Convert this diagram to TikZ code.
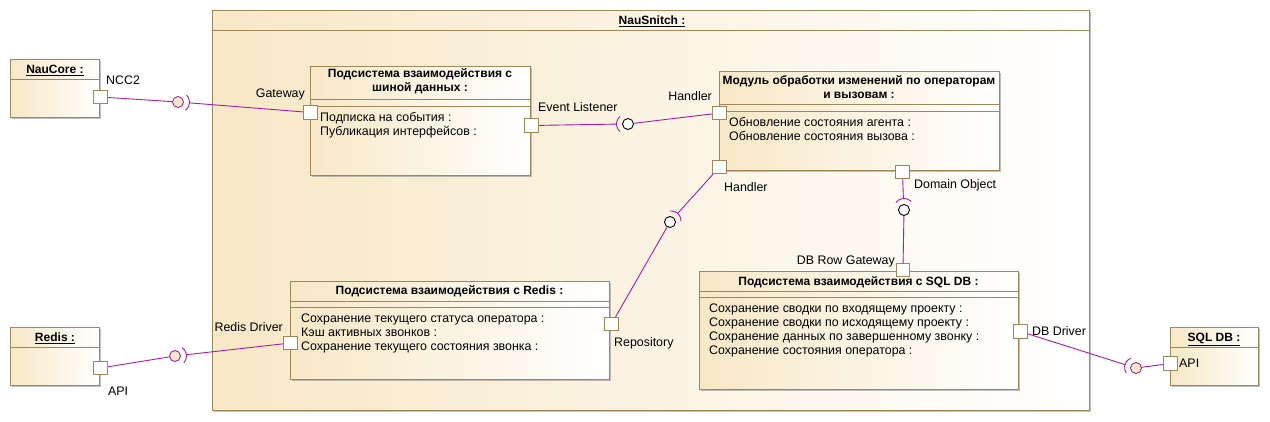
\documentclass[tikz,border=0pt]{standalone}
\usepackage{fontspec}
\setmainfont{Liberation Sans}
\usetikzlibrary{calc,shadows}
\definecolor{frameC}{RGB}{158,136,90}
\definecolor{creamC}{RGB}{247,232,198}
\definecolor{ballC}{RGB}{250,234,202}
\definecolor{connC}{RGB}{165,30,165}
\definecolor{shadowC}{RGB}{140,140,140}
\tikzset{
  comp/.style={draw=frameC, line width=1pt, left color=creamC, right color=white,
    inner sep=0pt, anchor=north west,
    drop shadow={shadow xshift=1.6pt, shadow yshift=-1.6pt, fill=shadowC, opacity=0.55}},
  sepline/.style={draw=frameC, line width=0.9pt},
  port/.style={draw=frameC, fill=white, line width=0.9pt, minimum size=12.5pt, inner sep=0pt},
  ballext/.style={circle, draw=connC, fill=ballC, line width=0.9pt, minimum size=11pt, inner sep=0pt},
  ballint/.style={circle, draw=black, fill=white, line width=0.9pt, minimum size=11pt, inner sep=0pt},
  conn/.style={draw=connC, line width=0.9pt},
  txt/.style={font=\fontsize{12.4}{14}\selectfont, inner sep=0pt, text height=8.7pt, text depth=0pt},
  ttl/.style={font=\fontsize{12}{14}\selectfont\bfseries, inner sep=0pt, text height=8.5pt, text depth=0pt},
  attr/.style={txt, anchor=west},
  x=1pt, y=1pt
}
\newcommand\mysock[3]{%
  \pgfmathsetmacro\sockA{#2-50}\pgfmathsetmacro\sockB{#2+50}%
  \draw[conn] ($(#1)+(#2:1.5pt)+(\sockA:10pt)$) arc[start angle=\sockA, end angle=\sockB, radius=10pt];
  \coordinate (#3) at ($(#1)+(#2:11.5pt)$);}
\begin{document}
\begin{tikzpicture}
\useasboundingbox (0,0) rectangle (1270,-421);
% ---------- boxes ----------
\node[comp, minimum width=877pt, minimum height=400pt] (snitch) at (212,-10) {};
\draw[sepline] (212,-30) -- (1089,-30);
\node[ttl] (tSnitch) at (652,-20) {\underline{NauSnitch :}};

\node[comp, minimum width=89pt, minimum height=58pt] (core) at (10,-59) {};
\draw[sepline] (10,-79) -- (99,-79);
\node[ttl] (tCore) at (55,-69) {\underline{NauCore :}};

\node[comp, minimum width=89pt, minimum height=58pt] (redisx) at (10,-327) {};
\draw[sepline] (10,-347) -- (99,-347);
\node[ttl] (tRedisX) at (55,-337) {\underline{Redis :}};

\node[comp, minimum width=88pt, minimum height=58pt] (sqlx) at (1170,-327) {};
\draw[sepline] (1170,-347) -- (1258,-347);
\node[ttl] (tSqlX) at (1214,-337) {\underline{SQL DB :}};

\node[comp, minimum width=220pt, minimum height=109pt] (bus) at (310,-66) {};
\draw[sepline] (310,-99) -- (530,-99);
\draw[sepline] (310,-106) -- (530,-106);
\node[ttl] (tBus1) at (420,-73) {Подсистема взаимодействия с};
\node[ttl] (tBus2) at (420,-87) {шиной данных :};
\node[attr] (aBus1) at (320,-117) {Подписка на события :};
\node[attr] (aBus2) at (320,-131) {Публикация интерфейсов :};

\node[comp, minimum width=280pt, minimum height=99pt] (mod) at (719,-71) {};
\draw[sepline] (719,-104) -- (999,-104);
\draw[sepline] (719,-111) -- (999,-111);
\node[ttl] (tMod1) at (859,-80) {Модуль обработки изменений по операторам};
\node[ttl] (tMod2) at (859,-94) {и вызовам :};
\node[attr] (aMod1) at (729,-122) {Обновление состояния агента :};
\node[attr] (aMod2) at (729,-136) {Обновление состояния вызова :};

\node[comp, minimum width=319pt, minimum height=98pt] (red) at (290,-281) {};
\draw[sepline] (290,-301) -- (609,-301);
\draw[sepline] (290,-307) -- (609,-307);
\node[ttl] (tRed) at (449.5,-290) {Подсистема взаимодействия с Redis :};
\node[attr] (aRed1) at (301,-318) {Сохранение текущего статуса оператора :};
\node[attr] (aRed2) at (301,-332) {Кэш активных звонков :};
\node[attr] (aRed3) at (301,-346) {Сохранение текущего состояния звонка :};

\node[comp, minimum width=319pt, minimum height=118pt] (sql) at (699,-271) {};
\draw[sepline] (699,-291) -- (1018,-291);
\draw[sepline] (699,-297) -- (1018,-297);
\node[ttl] (tSql) at (858.5,-281) {Подсистема взаимодействия с SQL DB :};
\node[attr] (aSql1) at (709,-308) {Сохранение сводки по входящему проекту :};
\node[attr] (aSql2) at (709,-322) {Сохранение сводки по исходящему проекту :};
\node[attr] (aSql3) at (709,-336) {Сохранение данных по завершенному звонку :};
\node[attr] (aSql4) at (709,-350) {Сохранение состояния оператора :};

% ---------- ports ----------
\node[port] (pNCC2) at (100.5,-97) {};
\node[port] (pGw) at (310.5,-112.5) {};
\node[port] (pEL) at (531.5,-125.5) {};
\node[port] (pH1) at (719.5,-113) {};
\node[port] (pH2) at (719.5,-167) {};
\node[port] (pDO) at (902.5,-172) {};
\node[port] (pRepo) at (611.5,-324) {};
\node[port] (pRD) at (290.5,-343) {};
\node[port] (pRAPI) at (100.5,-368) {};
\node[port] (pDBRG) at (903,-270) {};
\node[port] (pDBD) at (1020.5,-331.5) {};
\node[port] (pSAPI) at (1170.5,-363.5) {};

% ---------- balls ----------
\node[ballext] (bNCC2) at (178,-102) {};
\node[ballint] (bEL) at (628,-124) {};
\node[ballint] (bRepo) at (670,-222) {};
\node[ballint] (bDO) at (904,-210) {};
\node[ballext] (bDB) at (1136,-368) {};
\node[ballext] (bRed) at (175,-356) {};

% ---------- connectors ----------
\draw[conn] (pNCC2) -- (bNCC2);
\mysock{bNCC2}{-4.3}{sNCC2}
\draw[conn] (sNCC2) -- (pGw);

\draw[conn] (pH1) -- (bEL);
\mysock{bEL}{180.5}{sEL}
\draw[conn] (sEL) -- (pEL);

\draw[conn] (pRepo) -- (bRepo);
\mysock{bRepo}{48.3}{sRepo}
\draw[conn] (sRepo) -- (pH2);

\draw[conn] (pDBRG) -- (bDO);
\mysock{bDO}{93}{sDO}
\draw[conn] (sDO) -- (pDO);

\draw[conn] (pSAPI) -- (bDB);
\mysock{bDB}{162.8}{sDB}
\draw[conn] (sDB) -- (pDBD);

\draw[conn] (pRAPI) -- (bRed);
\mysock{bRed}{6.4}{sRed}
\draw[conn] (sRed) -- (pRD);

% redraw ports on top of connectors
\foreach \p in {pNCC2,pGw,pEL,pH1,pH2,pDO,pRepo,pRD,pRAPI,pDBRG,pDBD,pSAPI}
  \draw[draw=frameC, line width=0.9pt, fill=white] (\p.north west) rectangle (\p.south east);

% ---------- port labels ----------
\node[txt, anchor=west] (lNCC2) at (106,-80) {NCC2};
\node[txt, anchor=east] (lGw) at (305,-93) {Gateway};
\node[txt, anchor=west] (lEL) at (538,-107) {Event Listener};
\node[txt, anchor=east] (lH1) at (712,-96) {Handler};
\node[txt, anchor=west] (lH2) at (724,-187) {Handler};
\node[txt, anchor=west] (lDO) at (914,-184) {Domain Object};
\node[txt, anchor=east] (lDBRG) at (895,-260) {DB Row Gateway};
\node[txt, anchor=west] (lRepo) at (614,-342) {Repository};
\node[txt, anchor=east] (lRD) at (283,-327) {Redis Driver};
\node[txt, anchor=west] (lRAPI) at (108,-391) {API};
\node[txt, anchor=west] (lDBD) at (1032,-331) {DB Driver};
\node[txt, anchor=west] (lSAPI) at (1179,-363) {API};
\end{tikzpicture}
\end{document}
